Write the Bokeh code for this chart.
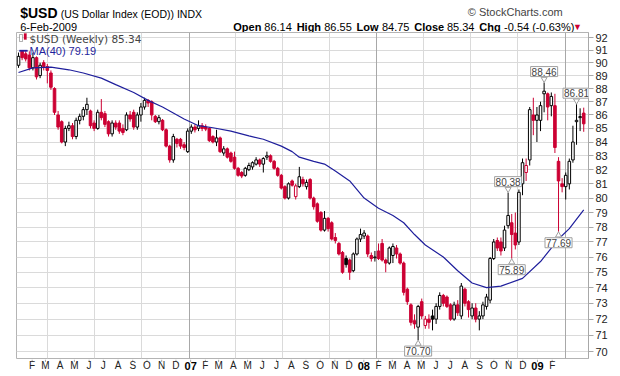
import math
import pandas as pd
from bokeh.plotting import figure
from bokeh.layouts import column
from bokeh.models import (Range1d, FixedTicker, NumeralTickFormatter, Label, Grid,
                          ColumnDataSource, BoxAnnotation)
from bokeh.core.properties import value
from bokeh.embed import file_html
from bokeh.resources import INLINE

# ---------------- data (weekly, week ending Friday) ----------------
weeks = pd.date_range("2006-02-03", "2009-02-06", freq="W-FRI")

opens = [89.8, 90.9, 90.7, 90.6, 89.6, 90.4, 89.0, 90.0, 89.7, 89.2, 88.0, 86.0, 85.5, 84.0, 85.0, 85.2,
         84.4, 85.6, 85.9, 86.4, 86.3, 85.4, 85.0, 86.2, 86.1, 85.5, 84.6, 85.4, 85.4, 85.0, 84.9, 86.0,
         86.2, 85.1, 86.0, 86.6, 87.1, 87.0, 85.9, 85.5, 85.6, 84.9, 83.7, 82.7, 84.2, 84.2, 83.8, 83.3,
         84.8, 85.1, 85.0, 85.2, 85.1, 85.0, 84.4, 84.0, 84.3, 83.2, 83.5, 83.2, 82.9, 82.1, 81.8, 81.6,
         82.0, 82.2, 82.4, 82.7, 82.4, 82.9, 83.0, 82.6, 82.1, 81.6, 80.8, 80.0, 81.2, 80.1, 80.8, 81.3,
         80.8, 81.3, 80.0, 79.6, 79.0, 77.8, 78.6, 78.3, 77.3, 76.9, 76.3, 75.9, 75.8, 75.1, 76.2, 77.2,
         77.4, 77.4, 76.1, 75.95, 76.4, 76.9, 75.8, 75.6, 76.1, 76.6, 76.2, 75.6, 73.9, 72.9, 71.9, 71.5,
         73.1, 71.6, 72.0, 72.2, 72.0, 72.8, 73.5, 73.4, 72.9, 72.0, 72.9, 72.2, 73.9, 73.1, 72.2, 72.7,
         72.0, 72.2, 72.8, 73.2, 75.9, 77.1, 77.0, 76.6, 78.1, 78.3, 77.6, 77.0, 81.0, 81.8, 82.7, 86.0,
         85.6, 85.6, 87.6, 87.6, 86.7, 86.7, 82.6, 81.0, 80.8, 81.0, 82.7, 85.5, 85.8, 86.14]
highs = [90.8, 91.0, 90.9, 90.9, 90.8, 90.5, 90.0, 90.2, 89.9, 89.4, 88.1, 86.3, 85.6, 85.2, 85.5, 85.4,
         85.8, 86.1, 86.6, 87.3, 86.4, 85.6, 86.4, 87.2, 86.3, 85.6, 85.6, 85.6, 85.6, 85.3, 86.2, 86.3,
         86.4, 86.2, 86.9, 87.3, 87.2, 87.1, 86.0, 86.0, 85.7, 85.0, 83.8, 84.6, 84.3, 84.3, 84.0, 85.0,
         85.3, 85.3, 85.6, 85.4, 85.3, 85.1, 84.5, 84.9, 84.4, 83.7, 83.6, 83.3, 83.3, 82.2, 81.9, 82.2,
         82.5, 82.6, 82.9, 82.8, 82.9, 83.3, 83.1, 82.7, 82.2, 81.7, 80.9, 81.1, 81.3, 81.0, 82.2, 81.5,
         81.3, 81.4, 80.1, 79.7, 79.1, 79.1, 78.7, 78.4, 77.6, 77.0, 76.4, 76.1, 75.9, 76.3, 77.3, 77.9,
         77.8, 77.5, 76.3, 76.4, 76.9, 77.2, 75.9, 76.7, 76.9, 76.8, 76.3, 75.7, 74.0, 73.0, 72.3, 72.9,
         73.3, 72.2, 72.3, 72.6, 73.0, 73.7, 73.6, 73.5, 73.0, 73.1, 73.2, 74.3, 74.0, 73.2, 73.0, 73.0,
         72.5, 73.1, 73.6, 76.0, 77.2, 77.3, 77.3, 78.1, 80.38, 78.9, 79.0, 80.6, 82.8, 82.8, 86.6, 87.3,
         86.6, 87.0, 88.46, 87.7, 87.7, 87.6, 82.9, 81.4, 81.8, 82.8, 85.2, 86.81, 86.5, 86.55]
lows = [89.6, 90.2, 90.1, 89.4, 89.4, 88.7, 88.8, 89.4, 88.4, 87.9, 86.0, 84.9, 83.9, 83.7, 84.8, 84.2,
        84.2, 85.3, 85.6, 86.0, 85.0, 84.8, 84.9, 85.6, 85.1, 84.4, 84.4, 84.9, 84.6, 84.5, 84.8, 85.5,
        84.9, 84.9, 85.5, 86.4, 86.6, 85.6, 85.4, 85.3, 84.8, 83.6, 82.5, 82.5, 83.6, 83.5, 83.4, 83.2,
        84.6, 84.7, 84.8, 84.8, 84.8, 84.0, 83.9, 83.7, 83.2, 83.0, 82.8, 82.5, 82.0, 81.5, 81.4, 81.5,
        81.9, 82.0, 82.3, 82.2, 81.8, 82.7, 82.5, 82.0, 81.5, 80.6, 79.9, 79.9, 80.8, 79.9, 80.7, 80.8,
        80.6, 79.9, 79.2, 78.3, 77.7, 77.7, 77.7, 77.1, 76.9, 76.1, 74.9, 75.3, 74.5, 75.0, 76.1, 77.0,
        77.2, 76.0, 75.7, 75.7, 75.8, 75.7, 75.0, 75.5, 75.6, 75.9, 75.5, 73.5, 72.9, 71.6, 71.4, 70.70,
        72.0, 71.4, 71.4, 71.3, 71.7, 72.6, 72.8, 72.7, 71.9, 71.9, 72.2, 72.0, 72.8, 72.1, 72.0, 71.8,
        71.3, 72.0, 72.6, 73.0, 75.8, 76.4, 76.1, 76.4, 77.9, 75.89, 76.5, 76.8, 80.2, 81.2, 82.3, 84.5,
        84.0, 84.8, 86.2, 85.6, 85.9, 83.2, 77.69, 80.4, 79.9, 80.6, 82.5, 83.8, 84.8, 84.75]
closes = [90.5, 90.4, 90.3, 89.6, 90.4, 88.9, 89.8, 89.7, 89.4, 88.1, 86.2, 85.1, 84.0, 85.0, 85.2, 84.4,
          85.6, 85.9, 86.4, 86.8, 85.2, 85.0, 86.2, 85.8, 85.3, 84.6, 85.4, 85.1, 84.8, 84.7, 86.0, 85.7,
          85.1, 86.0, 86.6, 87.1, 86.9, 86.0, 85.5, 85.8, 84.9, 83.7, 82.7, 84.4, 83.9, 83.7, 83.6, 84.8,
          85.1, 84.9, 85.2, 85.0, 84.95, 84.1, 84.0, 84.3, 83.3, 83.5, 82.9, 82.6, 82.1, 81.6, 81.55, 82.1,
          82.3, 82.5, 82.7, 82.4, 82.8, 83.0, 82.6, 82.1, 81.6, 80.7, 80.0, 81.0, 80.9, 80.85, 81.5, 81.0,
          81.1, 80.0, 79.4, 78.4, 77.8, 78.6, 77.9, 77.2, 77.1, 76.2, 75.0, 75.5, 75.0, 76.2, 77.2, 77.5,
          77.6, 76.2, 75.9, 76.0, 75.9, 75.8, 75.6, 76.6, 76.7, 76.2, 75.6, 73.7, 73.1, 71.8, 71.7, 72.8,
          72.2, 72.0, 71.8, 72.0, 72.8, 73.5, 73.0, 72.8, 72.0, 72.9, 72.4, 74.1, 73.0, 72.6, 72.7, 72.0,
          72.2, 72.9, 73.4, 75.9, 77.0, 76.6, 76.4, 77.8, 78.8, 77.5, 76.8, 80.4, 82.5, 82.3, 86.4, 85.6,
          86.0, 86.7, 87.8, 86.6, 87.4, 83.6, 81.2, 80.8, 81.6, 82.6, 84.0, 85.6, 85.88, 85.34]

# 40-week moving average at selected weeks (index into weeks)
ma_week_idx = [0, 4, 9, 14, 18, 23, 27, 32, 36, 40, 46, 50, 54, 59, 64, 68, 73, 76, 78, 82, 85, 88,
               92, 96, 100, 104, 107, 110, 113, 118, 122, 126, 130, 134, 140, 145, 150, 153, 157]
ma_values = [89.24, 89.6, 89.65, 89.45, 89.2, 88.8, 88.3, 87.7, 87.1, 86.6, 85.7, 85.2, 85.05, 84.8,
             84.45, 84.2, 83.7, 83.3, 82.9, 82.6, 82.4, 81.9, 81.2, 80.0, 79.3, 78.8, 78.3, 77.5, 76.8,
             76.0, 75.1, 74.3, 74.0, 74.1, 74.6, 75.7, 77.2, 77.9, 79.19]

# callouts
callout_idx = [146, 155, 136, 137, 150, 111]
callout_val = [88.46, 86.81, 80.38, 75.89, 77.69, 70.70]
callout_above = [True, True, True, False, False, False]

y_ticks = list(range(70, 93))
month_initials = ["J", "F", "M", "A", "M", "J", "J", "A", "S", "O", "N", "D"]
year_labels = ["07", "08", "09"]

title_symbol = "$USD"
title_name = "(US Dollar Index (EOD)) INDX"
credit = "\u00a9 StockCharts.com"
date_text = "6-Feb-2009"
quote_keys = ["Open", "High", "Low", "Close", "Chg"]
quote_vals = ["86.14", "86.55", "84.75", "85.34", "-0.54 (-0.63%)"]
legend_main = "$USD (Weekly) 85.34"
legend_ma = "MA(40) 79.19"

RED = "#cc0033"
BLACK = "#000000"
NAVY = "#1f1f9c"
FONT = "Liberation Sans"

# ---------------- derived styling ----------------
prev = [closes[0] - 0.1] + closes[:-1]
colors = [RED if c < pc else BLACK for c, pc in zip(closes, prev)]
fills = ["#ffffff" if c > o else col for o, c, col in zip(opens, closes, colors)]
src = ColumnDataSource(dict(
    x=weeks, o=opens, h=highs, l=lows, c=closes,
    top=[max(o, c) for o, c in zip(opens, closes)],
    bot=[min(o, c) for o, c in zip(opens, closes)],
    color=colors, fill=fills))

PX_PER_DAY = 0.514286
PX_PER_LN = 1149.0
X0 = pd.Timestamp("2006-01-30 02:00")
X1 = pd.Timestamp("2009-02-15 07:00")

# ---------------- header (page pixel coordinates) ----------------
head = figure(width=620, height=32, output_backend="svg", toolbar_location=None,
              x_range=Range1d(0, 620), y_range=Range1d(32, 0),
              x_axis_location=None, y_axis_location=None,
              min_border_left=0, min_border_right=0, min_border_top=0, min_border_bottom=0)
head.outline_line_color = None
head.xgrid.visible = False
head.ygrid.visible = False


def htext(fig, xs, ys, texts, size="11px", bold=False, color="#000000", align="left", font=FONT):
    fig.text(x=xs, y=ys, text=texts, text_font=value(font), text_font_size=value(size),
             text_font_style="bold" if bold else "normal", text_color=color,
             text_align=align, text_baseline="middle")


# approximate advance widths (em) of Liberation Sans, used only to space the quote line
W_REG = {c: 0.556 for c in "0123456789"}
W_REG.update({".": 0.278, "-": 0.333, " ": 0.278, "(": 0.333, ")": 0.333, "%": 0.889})
W_BOLD = {"O": .778, "p": .611, "e": .556, "n": .611, "H": .722, "i": .278, "g": .611, "h": .611,
          "L": .611, "o": .611, "w": .778, "C": .722, "l": .278, "s": .556}


def width(s, table, size):
    return sum(table.get(ch, 0.6) for ch in s) * size


htext(head, [4], [12], [title_symbol], size="14px", bold=True)
htext(head, [48], [13], [title_name], size="10.5px")
htext(head, [592], [11], [credit], color="#444444", align="right")
htext(head, [4], [26], [date_text])

xq = 235.0
key_x, val_x = [], []
for k, v in zip(quote_keys, quote_vals):
    key_x.append(xq)
    xq += width(k, W_BOLD, 11) + 5.5
    val_x.append(xq)
    xq += width(v, W_REG, 11) + 7.5
htext(head, key_x, [26] * 5, quote_keys, size="11px", bold=True)
htext(head, val_x, [26] * 5, quote_vals)
htext(head, [xq - 3], [26.5], ["\u25bc"], size="9px", color=RED)

# ---------------- main chart ----------------
p = figure(width=620, height=327, output_backend="svg", toolbar_location=None,
           x_axis_type="datetime", y_axis_type="log", y_axis_location="right",
           x_axis_location=None,
           x_range=Range1d(X0, X1), y_range=Range1d(69.575, 92.40),
           min_border_left=16, min_border_right=32, min_border_top=0, min_border_bottom=1)
p.outline_line_color = "#b4b4b4"
p.background_fill_color = "#ffffff"

p.ygrid.ticker = FixedTicker(ticks=y_ticks)
p.ygrid.grid_line_color = "#dadada"
p.xgrid.visible = False
quarters = pd.date_range("2006-04-01", "2009-01-01", freq="QS")
q_ms = [t.value / 1e6 for t in quarters if t.month != 1]
j_ms = [t.value / 1e6 for t in quarters if t.month == 1]
p.add_layout(Grid(dimension=0, ticker=FixedTicker(ticks=q_ms), grid_line_color="#dadada"))
p.add_layout(Grid(dimension=0, ticker=FixedTicker(ticks=j_ms), grid_line_color="#a8a8a8"))

ya = p.yaxis[0]
ya.ticker = FixedTicker(ticks=y_ticks)
ya.formatter = NumeralTickFormatter(format="0")
ya.axis_line_color = "#a8a8a8"
ya.major_tick_line_color = "#a8a8a8"
ya.major_tick_out = 5
ya.major_tick_in = 0
ya.minor_tick_line_color = None
ya.major_label_standoff = 2
ya.major_label_text_font = FONT
ya.major_label_text_font_size = "11px"
ya.major_label_text_color = "#222222"

# candles
p.segment(x0="x", y0="h", x1="x", y1="l", color="color", line_width=1, source=src)
p.vbar(x="x", top="top", bottom="bot", width=5 * 86400000, fill_color="fill",
       line_color="color", line_width=1, source=src)

# moving average
p.line([weeks[i] for i in ma_week_idx], ma_values, color=NAVY, line_width=1.2)

# callouts with small pointers
for i, v, up in zip(callout_idx, callout_val, callout_above):
    f = math.exp((3.5 if up else -3.5) / PX_PER_LN)
    p.scatter([weeks[i]], [v * f], marker="inverted_triangle" if up else "triangle", size=6,
              fill_color="#ffffff", line_color="#a0a0a0", line_width=1)
    p.add_layout(Label(x=weeks[i], y=v, text=f"{v:.2f}", text_font=FONT,
                       text_font_size="10px", text_align="center",
                       text_baseline="bottom" if up else "top",
                       y_offset=6 if up else -6, padding=1,
                       border_line_color="#a0a0a0", background_fill_color="#ffffff"))


# legend (inside, top-left) - positioned by page pixels through the chart scales
def px2x(px):
    return (X0 + pd.Timedelta(days=(px - 16) / PX_PER_DAY)).value / 1e6


def py2y(py):
    return 92.40 * math.exp((32 - py) / PX_PER_LN)


def pbox(x0, x1, y0, y1, fill, line):
    return BoxAnnotation(left=px2x(x0), right=px2x(x1), top=py2y(y0), bottom=py2y(y1),
                         fill_color=fill, fill_alpha=1, line_color=line, line_width=1)


p.add_layout(pbox(19, 22, 34, 41, "#ffffff", "#000000"))
p.add_layout(pbox(23.5, 26, 33, 39, RED, RED))
p.add_layout(Label(x=px2x(29), y=py2y(38), text=legend_main, text_font="DejaVu Sans",
                   text_font_size="10.5px", text_baseline="middle"))
p.add_layout(pbox(19, 27, 49.5, 51, NAVY, NAVY))
p.add_layout(Label(x=px2x(29), y=py2y(50), text=legend_ma, text_font=FONT,
                   text_font_size="11px", text_color=NAVY, text_baseline="middle"))

# ---------------- footer: month initials on the same time scale ----------------
foot = figure(width=620, height=17, output_backend="svg", toolbar_location=None,
              x_axis_type="datetime",
              x_range=Range1d(X0 - pd.Timedelta(days=16 / PX_PER_DAY),
                              X1 + pd.Timedelta(days=32 / PX_PER_DAY)),
              y_range=Range1d(17, 0), x_axis_location=None, y_axis_location=None,
              min_border_left=0, min_border_right=0, min_border_top=0, min_border_bottom=0)
foot.outline_line_color = None
foot.xgrid.visible = False
foot.ygrid.visible = False

months = pd.date_range("2006-02-01", "2009-02-01", freq="MS")
foot.segment(x0=months, y0=[0] * len(months), x1=months, y1=[2.5] * len(months),
             color="#a8a8a8", line_width=1)
mon_x = [t for t in months if t.month != 1]
mon_t = [month_initials[t.month - 1] for t in mon_x]
foot.text(x=mon_x, y=[6] * len(mon_x), text=mon_t, text_font=value(FONT),
          text_font_size=value("10px"), text_color="#222222", text_align="center",
          text_baseline="middle")
jan_x = [t for t in months if t.month == 1]
foot.text(x=jan_x, y=[6] * len(jan_x), text=year_labels, text_font=value(FONT),
          text_font_size=value("11px"), text_font_style="bold", text_color="#000000",
          text_align="center", text_baseline="middle")

layout = column(head, p, foot, spacing=0)
open("out.html", "w").write(file_html(layout, INLINE))
